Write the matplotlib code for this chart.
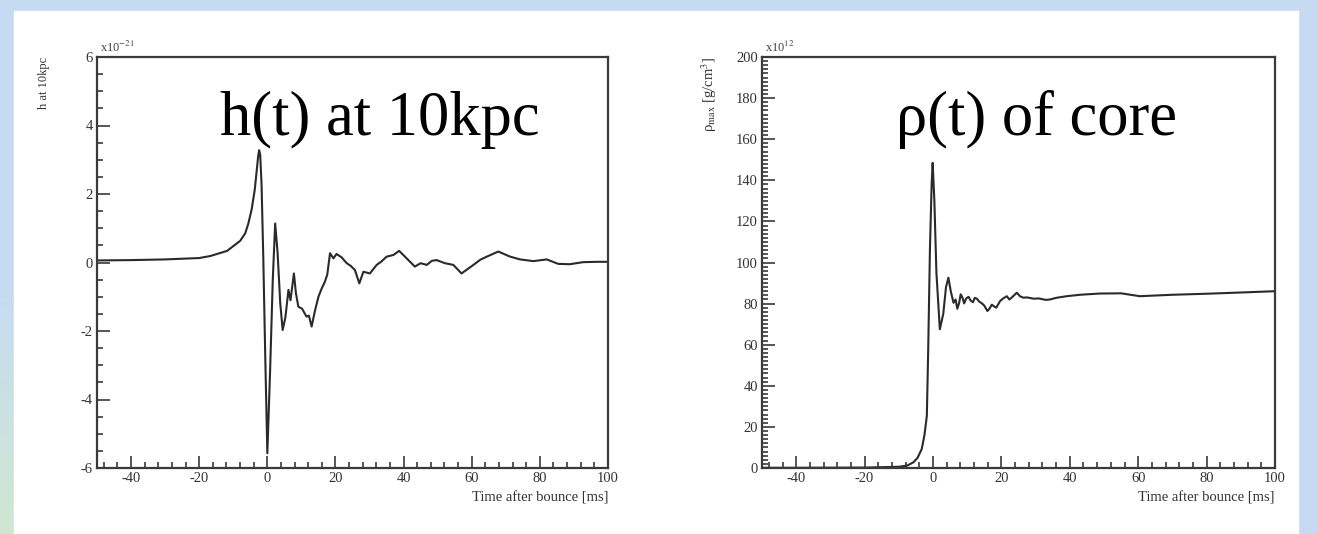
import numpy as np
import matplotlib
matplotlib.use("Agg")
import matplotlib.pyplot as plt
from matplotlib.ticker import MultipleLocator
from matplotlib.patches import Rectangle

plt.rcParams["font.family"] = ["Liberation Serif", "DejaVu Serif"]
plt.rcParams["mathtext.fontset"] = "stix"
plt.rcParams["axes.unicode_minus"] = False

# h(t) at 10 kpc, units of 1e-21
h_time = [-50, -40, -30, -20, -16.7, -11.8, -8.0, -6.5, -5.6, -4.6, -3.7, -3.1, -2.7, -2.4,
          -2.1, -1.7, -1.2, -0.6, 0.0,
          0.8, 1.6, 2.3, 3.0, 3.8, 4.5, 5.3, 6.2, 6.8, 7.8, 8.4, 9.1, 10.2, 11.5,
          12.2, 13.0, 14.0, 15.0, 16.0, 16.9, 17.6, 18.4, 19.4, 20.3, 21.8, 23.3,
          24.5, 25.7, 27.0, 28.2, 30.1, 32.1, 33.5, 35.0, 37.0, 38.7, 40.9, 43.3, 45.0, 46.8,
          48.3, 49.7, 52.1, 54.6, 57.0, 60.5, 62.5, 64.4, 67.8, 71.3, 74.2, 78.1, 82.0,
          85.4, 88.8, 92.7, 96.7, 100]
h_strain = [0.06, 0.07, 0.09, 0.13, 0.19, 0.34, 0.63, 0.85, 1.13, 1.55, 2.12, 2.7, 3.1, 3.28,
            3.15, 2.3, 0.2, -2.8, -5.57,
            -3.2, -0.5, 1.14, 0.3, -1.2, -1.97, -1.6, -0.8, -1.1, -0.32, -0.9, -1.29, -1.35, -1.58,
            -1.55, -1.87, -1.4, -1.0, -0.75, -0.56, -0.35, 0.27, 0.12, 0.25, 0.15, -0.02,
            -0.1, -0.22, -0.61, -0.27, -0.32, -0.07, 0.03, 0.17, 0.22, 0.34, 0.12, -0.12, -0.02, -0.07,
            0.05, 0.07, -0.02, -0.07, -0.32, -0.07, 0.08, 0.17, 0.32, 0.17, 0.09, 0.04, 0.09,
            -0.04, -0.05, 0.01, 0.02, 0.02]

# central density, units of 1e12 g/cm^3
rho_time = [-50, -40, -30, -20, -10, -7.5, -5.7, -4.5, -3.3, -2.5, -1.8, -1.4, -0.9, -0.4,
            -0.1, 0.4, 1.0, 2.0, 3.0, 3.8, 4.5, 5.2, 6.0, 6.6, 7.1, 7.6, 8.1, 8.6, 9.1,
            9.7, 10.4, 11.0, 11.7, 12.2, 12.8, 13.5, 14.3, 15.0, 15.9, 16.5, 17.2, 17.7,
            18.5, 19.6, 20.5, 21.6, 22.3, 23.0, 24.5, 25.5, 26.4, 27.5, 29.4, 31.0, 33.0,
            34.2, 36.0, 39.1, 43.0, 48.8, 55.0, 60.5, 70.0, 80.0, 90.0, 99.5]
rho_core = [0.1, 0.1, 0.15, 0.2, 0.6, 1.2, 2.8, 5.0, 9.2, 16.0, 25.4, 57.8, 106, 138,
            148.5, 130, 95, 67.5, 75, 88, 92.6, 86, 80.4, 82.0, 77.5, 80.0, 84.5, 83.0, 80.1,
            82.5, 83.3, 81.5, 80.7, 82.8, 82.4, 81.0, 80.1, 79.0, 76.4, 77.5, 79.5, 78.8,
            78.0, 81.2, 82.5, 83.6, 82.0, 82.9, 85.3, 83.5, 82.9, 83.0, 82.4, 82.5, 81.8,
            82.0, 82.8, 83.6, 84.3, 84.9, 85.0, 83.6, 84.3, 84.8, 85.4, 86.0]

fig = plt.figure(figsize=(13.17, 5.34), dpi=100)
W, H = 1317, 534

# slide background: light blue frame, greenish toward lower left
bg = fig.add_axes([0, 0, 1, 1], zorder=-5)
yy, xx = np.mgrid[0:H, 0:W]
blue = np.array([0.78, 0.86, 0.95])
green = np.array([0.82, 0.91, 0.80])
mix = np.clip((yy / H - 0.55) * 2.0, 0, 1) * np.clip(1 - xx / 300, 0, 1)
img = blue[None, None, :] * (1 - mix[..., None]) + green[None, None, :] * mix[..., None]
bg.imshow(img, extent=[0, W, H, 0], aspect="auto")
bg.add_patch(Rectangle((14, 11), 1284, H, color="white"))
bg.set_xlim(0, W)
bg.set_ylim(H, 0)
bg.axis("off")

ink = "#2a2a2a"


def style_axes(ax):
    for s in ax.spines.values():
        s.set_color("#3a3a3a")
        s.set_linewidth(1.6)
    ax.tick_params(which="both", direction="in", top=False, right=False,
                   colors="#3a3a3a", labelcolor="#333333", labelsize=10.5, width=1.2)
    ax.tick_params(which="major", length=9, pad=3)
    ax.tick_params(which="minor", length=4.5)
    ax.set_xlim(-50, 100)
    ax.xaxis.set_major_locator(MultipleLocator(20))
    ax.xaxis.set_minor_locator(MultipleLocator(4))
    ax.set_xlabel("Time after bounce [ms]", fontsize=10.5, color="#333333", loc="right", labelpad=4)


y0 = 1 - 468 / H
hgt = (468 - 57) / H

ax1 = fig.add_axes([97 / W, y0, (608 - 97) / W, hgt])
ax1.plot(h_time, h_strain, color=ink, lw=1.5)
style_axes(ax1)
ax1.set_ylim(-6, 6)
ax1.yaxis.set_major_locator(MultipleLocator(2))
ax1.yaxis.set_minor_locator(MultipleLocator(0.5))
ax1.set_ylabel("h at 10kpc", fontsize=9, color="#333333", loc="top", labelpad=22)
ax1.text(0.005, 1.005, r"x10$^{-21}$", transform=ax1.transAxes, fontsize=9,
         color="#444444", va="bottom", ha="left")

ax2 = fig.add_axes([762 / W, y0, (1275 - 762) / W, hgt])
ax2.plot(rho_time, rho_core, color=ink, lw=1.5)
style_axes(ax2)
ax2.set_ylim(0, 200)
ax2.yaxis.set_major_locator(MultipleLocator(20))
ax2.yaxis.set_minor_locator(MultipleLocator(2))
ax2.set_ylabel(r"ρ$_{\rm max}$ [g/cm$^{3}$]", fontsize=10.5, color="#333333", loc="top", labelpad=12)
ax2.text(0.005, 1.005, r"x10$^{12}$", transform=ax2.transAxes, fontsize=9,
         color="#444444", va="bottom", ha="left")

fig.text(220 / W, 1 - 135 / H, "h(t) at 10kpc", fontsize=45, color="black",
         ha="left", va="baseline")
fig.text(896 / W, 1 - 135 / H, "ρ(t) of core", fontsize=45, color="black",
         ha="left", va="baseline")

fig.savefig("out.png", dpi=100)
